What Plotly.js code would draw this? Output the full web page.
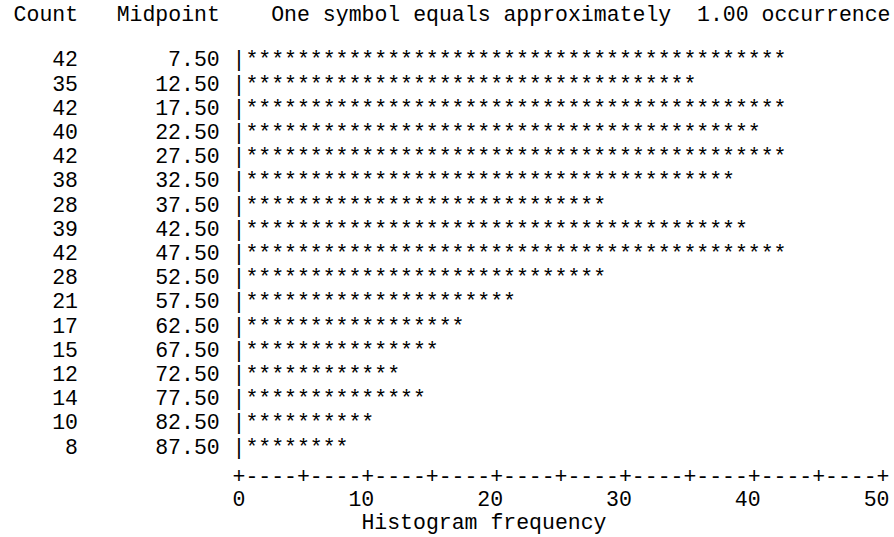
<!DOCTYPE html>
<html><head><meta charset="utf-8">
<script src="https://cdn.plot.ly/plotly-3.0.1.min.js"></script>
<style>html,body{margin:0;padding:0;background:#fff}#chart{width:894px;height:537px}</style>
</head><body><div id="chart"></div>
<script>
// ---- data ----
const counts = [42,35,42,40,42,38,28,39,42,28,21,17,15,12,14,10,8];
const midpoints = [7.5,12.5,17.5,22.5,27.5,32.5,37.5,42.5,47.5,52.5,57.5,62.5,67.5,72.5,77.5,82.5,87.5];
const freqTicks = [0,10,20,30,40,50];
const symbolValue = 1.00;
const headerCount = 'Count';
const headerMid = 'Midpoint';
const axisTitle = 'Histogram frequency';

// ---- style ----
const FONT = '"Courier New", "Nimbus Mono PS", FreeMono, "Liberation Mono", monospace';
const FS = 21.5;
const font = {family: FONT, size: FS, color: '#000'};
const NB = '\u00a0';

const rows = counts.map((_, i) => i + 1);
const axisMax = freqTicks[freqTicks.length - 1];

// stars, one per occurrence unit
const sx = [], sy = [];
counts.forEach((c, i) => { for (let k = 1; k <= Math.round(c / symbolValue); k++) { sx.push(k); sy.push(rows[i]); } });

// text axis line
const ax = [], at = [];
for (let u = 0; u <= axisMax; u++) { ax.push(u); at.push(u % 5 === 0 ? '+' : '-'); }

const headerY = -0.86, axisRowY = 18.2, tickRowY = 19.15, titleY = 20.12;

const base = {type: 'scatter', mode: 'text', textfont: font, hoverinfo: 'skip', cliponaxis: false, showlegend: false};
const traces = [
  Object.assign({}, base, {x: sx, y: sy, text: sx.map(() => '*'), textposition: 'middle center'}),
  Object.assign({}, base, {x: rows.map(() => 0), y: rows, text: rows.map(() => '|'), textposition: 'middle center'}),
  Object.assign({}, base, {x: rows.map(() => -12.5), y: rows, text: counts.map(String), textposition: 'middle left'}),
  Object.assign({}, base, {x: rows.map(() => -1.5), y: rows, text: midpoints.map(v => v.toFixed(2)), textposition: 'middle left'}),
  Object.assign({}, base, {x: ax, y: ax.map(() => axisRowY), text: at, textposition: 'middle center'}),
  // tick labels: last digit sits on the tick mark (right-aligned half a cell past it)
  Object.assign({}, base, {x: freqTicks.map(v => v + 0.5), y: freqTicks.map(() => tickRowY), text: freqTicks.map(String), textposition: 'middle left'}),
  Object.assign({}, base, {x: [-17.5, -9.5, 2.5], y: [headerY, headerY, headerY],
    text: [headerCount, headerMid, 'One symbol equals approximately' + NB + ' ' + symbolValue.toFixed(2) + ' occurrence'],
    textposition: 'middle right'}),
  Object.assign({}, base, {x: [9.5], y: [titleY], text: [axisTitle], textposition: 'middle right'})
];

const layout = {
  width: 894, height: 537,
  margin: {l: 0, r: 0, t: 0, b: 0},
  paper_bgcolor: '#fff', plot_bgcolor: '#fff',
  showlegend: false,
  xaxis: {range: [-18.556, 50.85], domain: [0, 1], showticklabels: false,
    showgrid: false, zeroline: false, showline: false, ticks: '', fixedrange: true},
  yaxis: {range: [20.67, -1.52], domain: [0, 1], showticklabels: false,
    showgrid: false, zeroline: false, showline: false, ticks: '', fixedrange: true}
};

Plotly.newPlot('chart', traces, layout, {staticPlot: true, displayModeBar: false});
</script>
</body></html>
